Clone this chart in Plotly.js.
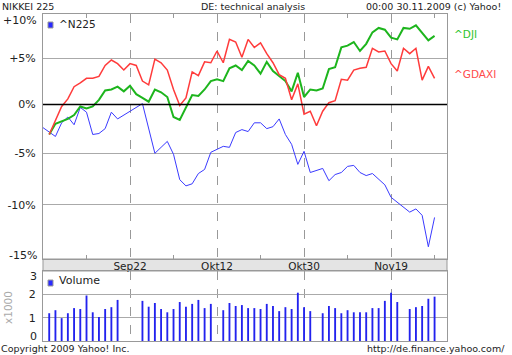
<!DOCTYPE html>
<html>
<head>
<meta charset="utf-8">
<script src="https://cdn.plot.ly/plotly-3.0.1.min.js"></script>
<style>html,body{margin:0;padding:0;background:#fff;}#chart{width:512px;height:355px;}</style>
</head>
<body>
<div id="chart"></div>
<script>
// Trading days (x categories)
const dates = [
 '2009-09-02','2009-09-03','2009-09-04','2009-09-07','2009-09-08','2009-09-09','2009-09-10','2009-09-11',
 '2009-09-14','2009-09-15','2009-09-16','2009-09-17','2009-09-18','2009-09-21','2009-09-22','2009-09-23',
 '2009-09-24','2009-09-25','2009-09-28','2009-09-29','2009-09-30','2009-10-01','2009-10-02','2009-10-05',
 '2009-10-06','2009-10-07','2009-10-08','2009-10-09','2009-10-12','2009-10-13','2009-10-14','2009-10-15',
 '2009-10-16','2009-10-19','2009-10-20','2009-10-21','2009-10-22','2009-10-23','2009-10-26','2009-10-27',
 '2009-10-28','2009-10-29','2009-10-30','2009-11-02','2009-11-03','2009-11-04','2009-11-05','2009-11-06',
 '2009-11-09','2009-11-10','2009-11-11','2009-11-12','2009-11-13','2009-11-16','2009-11-17','2009-11-18',
 '2009-11-19','2009-11-20','2009-11-23','2009-11-24','2009-11-25','2009-11-26','2009-11-27','2009-11-30'
];
// % change series
const n225 = [-2.4,-2.9,-3.3,-1.9,-1.3,-2.1,-0.3,-0.8,-3.1,-3.0,-2.5,-0.8,-1.5,null,null,null,
 0.1,-2.5,-5.0,-4.4,-3.8,-5.1,-7.6,-8.2,-8.0,-7.0,-6.6,-4.9,null,-4.3,-4.4,-2.9,
 -2.6,-2.8,-1.9,-1.9,-2.5,-2.3,-1.5,-3.1,-4.1,-6.1,-4.8,-6.9,null,-6.5,-7.7,-7.1,
 -6.9,-6.3,-6.2,-6.9,-7.2,-7.0,-7.6,-8.1,-9.3,-9.8,null,-10.7,-10.4,-11.0,-13.9,-11.2];
const gdaxi = [null,-3.1,-1.6,-0.2,0.6,1.9,2.3,2.8,2.8,3.0,4.2,4.8,4.4,3.7,4.4,4.2,
 2.5,2.1,4.9,4.5,3.7,1.6,-0.1,0.7,3.5,3.1,4.6,4.5,5.8,4.5,7.1,6.8,
 5.1,7.1,6.2,6.7,5.5,4.5,3.2,2.8,0.5,2.2,-1.0,-0.7,-2.2,-0.7,0.2,0.4,
 2.7,2.6,3.7,3.9,4.0,6.1,5.7,5.8,4.4,3.6,6.1,5.5,6.1,2.6,4.1,2.8];
const dji = [null,-3.1,-2.0,null,-1.5,-1.1,-0.2,-0.4,-0.2,0.5,1.5,1.6,1.9,1.4,2.0,1.1,
 0.7,0.3,1.6,1.3,0.8,-1.3,-1.6,-0.3,1.0,0.9,1.6,2.5,2.7,2.5,3.9,4.2,
 3.7,4.7,4.2,3.3,4.6,3.6,3.0,2.5,1.4,3.4,0.8,1.6,1.5,1.7,3.8,4.0,
 6.2,6.4,6.8,5.8,6.6,7.9,8.4,8.2,7.3,7.1,8.4,8.3,8.7,null,7.0,7.5];
// Volume (x1000)
const volume = [null,1.19,1.32,0.98,1.19,1.41,1.37,1.95,1.23,1.03,1.37,1.45,1.76,null,null,null,
 1.72,1.47,1.63,1.37,1.23,1.37,1.67,1.47,1.59,1.76,1.41,1.59,null,1.32,1.63,1.50,
 1.54,1.41,1.41,1.37,1.59,1.50,1.28,1.45,1.37,2.07,1.45,1.28,null,1.19,1.50,1.41,
 1.19,1.32,1.23,1.23,1.23,1.41,1.41,1.72,2.07,1.67,null,1.37,1.45,1.50,1.81,1.90];
// Axis ticks
const xTickVals = ['2009-09-22','2009-10-12','2009-10-30','2009-11-19'];
const xTickText = ['Sep22','Okt12','Okt30','Nov19'];
const xMinorVals = ['2009-09-11','2009-10-01','2009-10-21','2009-11-10','2009-11-30'];
const yTickPct = [-15,-10,-5,0,5,10];
const yTickText = ['-15%','-10%','-5%','0%','+5%','+10%'];
const volTicks = [0,1,2,3];
const volTickText = ['0','1','2','3'];

const FONT = 'DejaVu Sans, Verdana, sans-serif';
const TXT = '#222';
const toRatio = a => a.map(v => v == null ? null : 1 + v/100);
const yRange = [Math.log10(0.85), Math.log10(1.10)];
const volRange = [0, 3];
const mainDom = [0.25076, 1];
const volDom = [0, 0.21407];
const yPaper = pct => mainDom[0] + (Math.log10(1+pct/100)-yRange[0])/(yRange[1]-yRange[0])*(mainDom[1]-mainDom[0]);
const vPaper = v => volDom[0] + (v-volRange[0])/(volRange[1]-volRange[0])*(volDom[1]-volDom[0]);
const last = a => { for (let i=a.length-1;i>=0;i--) if (a[i]!=null) return a[i]; };

// inner ticks go on the axis; the edge labels are nudged inward like the original
const innerIdx = yTickPct.map((v,i)=>i).filter(i => i>0 && i<yTickPct.length-1);
const vInnerIdx = volTicks.map((v,i)=>i).filter(i => i>0 && i<volTicks.length-1);

const traces = [
 {x:dates, y:toRatio(n225), type:'scatter', mode:'lines', connectgaps:true, line:{color:'#3a3aff', width:1}, xaxis:'x', yaxis:'y', hoverinfo:'skip'},
 {x:dates, y:toRatio(dji), type:'scatter', mode:'lines', connectgaps:true, line:{color:'#1db51d', width:2}, xaxis:'x', yaxis:'y', hoverinfo:'skip'},
 {x:dates, y:toRatio(gdaxi), type:'scatter', mode:'lines', connectgaps:true, line:{color:'#ff3b3b', width:1.5}, xaxis:'x', yaxis:'y', hoverinfo:'skip'},
 {x:dates, y:volume, type:'bar', width:0.3, marker:{color:'#2222ee', line:{width:0}}, xaxis:'x2', yaxis:'y2', hoverinfo:'skip'}
];

const edgeLabel = (text, yp, shift) => ({text, xref:'paper', yref:'paper', x:0, xshift:-5, y:yp, yshift:shift,
  xanchor:'right', yanchor:'middle', showarrow:false, borderpad:0, font:{size:11, color:TXT}});

const layout = {
 width:512, height:355,
 margin:{l:43, r:65, t:14, b:14, pad:0},
 paper_bgcolor:'#ffffff', plot_bgcolor:'#ffffff',
 showlegend:false,
 font:{family:FONT, size:10.5, color:TXT},
 xaxis:{type:'category', range:[0,65], anchor:'y', showline:true, mirror:'ticks', linecolor:'#999', linewidth:1,
   showgrid:true, gridcolor:'#999', griddash:'dash', gridwidth:1, zeroline:false,
   tickmode:'array', tickvals:xTickVals, ticktext:xTickText, ticks:'', ticklabelstandoff:-3, tickfont:{size:10.5, color:TXT},
   minor:{tickmode:'array', tickvals:xMinorVals, ticks:'inside', ticklen:4, tickcolor:'#999', tickwidth:1, showgrid:false}},
 xaxis2:{type:'category', matches:'x', anchor:'y2', showline:true, mirror:true, linecolor:'#999', linewidth:1,
   showgrid:true, gridcolor:'#999', griddash:'dash', gridwidth:1, zeroline:false,
   tickmode:'array', tickvals:xTickVals, showticklabels:false, ticks:''},
 yaxis:{domain:mainDom, type:'log', range:yRange, anchor:'x', showline:true, mirror:true, linecolor:'#999', linewidth:1,
   showgrid:true, gridcolor:'#aaa', gridwidth:1, zeroline:false,
   tickmode:'array', tickvals:innerIdx.map(i=>1+yTickPct[i]/100), ticktext:innerIdx.map(i=>yTickText[i]),
   ticks:'outside', ticklen:4, tickcolor:'rgba(0,0,0,0)', tickfont:{size:11, color:TXT}},
 yaxis2:{domain:volDom, range:volRange, anchor:'x2', showline:true, mirror:true, linecolor:'#999', linewidth:1,
   showgrid:true, gridcolor:'#aaa', gridwidth:1, zeroline:false,
   tickmode:'array', tickvals:vInnerIdx.map(i=>volTicks[i]), ticktext:vInnerIdx.map(i=>volTickText[i]),
   ticks:'outside', ticklen:4, tickcolor:'rgba(0,0,0,0)', tickfont:{size:11, color:TXT}},
 shapes:[
   {type:'rect', xref:'paper', yref:'paper', x0:0, x1:1, y0:volDom[1], y1:mainDom[0], fillcolor:'#e4e4e4', line:{color:'#999', width:1}, layer:'below'},
   {type:'line', xref:'paper', yref:'paper', x0:0, x1:1, y0:yPaper(0), y1:yPaper(0), line:{color:'#000', width:1.5}},
   {type:'rect', xref:'paper', yref:'paper', x0:0.0124, x1:0.0248, y0:0.9572, y1:0.9755, fillcolor:'#2a2aff', line:{color:'#999', width:1}},
   {type:'rect', xref:'paper', yref:'paper', x0:0.0124, x1:0.0248, y0:0.1682, y1:0.1865, fillcolor:'#2a2aff', line:{color:'#999', width:1}}
 ],
 annotations:[
   edgeLabel(yTickText[yTickText.length-1], yPaper(yTickPct[yTickPct.length-1]), -6),
   edgeLabel(yTickText[0], yPaper(yTickPct[0]), 4),
   edgeLabel(volTickText[volTickText.length-1], vPaper(volTicks[volTicks.length-1]), -6),
   edgeLabel(volTickText[0], vPaper(volTicks[0]), 5),
   {text:'^N225', xref:'paper', yref:'paper', x:0.0354, y:0.9694, xanchor:'left', yanchor:'middle', showarrow:false, font:{size:10.5, color:TXT}},
   {text:'Volume', xref:'paper', yref:'paper', x:0.0354, y:0.1835, xanchor:'left', yanchor:'middle', showarrow:false, font:{size:11, color:TXT}},
   {text:'^DJI', xref:'paper', yref:'paper', x:1.0116, y:yPaper(last(dji)), yshift:2, xanchor:'left', yanchor:'middle', showarrow:false, font:{size:10.5, color:'#2cc42c'}},
   {text:'^GDAXI', xref:'paper', yref:'paper', x:1.0116, y:yPaper(last(gdaxi)), yshift:4, xanchor:'left', yanchor:'middle', showarrow:false, font:{size:10.5, color:'#ff4a4a'}},
   {text:'x1000', xref:'paper', yref:'paper', x:-0.0879, y:0.1024, textangle:-90, xanchor:'center', yanchor:'middle', showarrow:false, font:{size:10.5, color:'#aaa'}},
   {text:'NIKKEI 225', xref:'paper', yref:'paper', x:-0.1064, y:1.0214, yshift:1, xanchor:'left', yanchor:'middle', showarrow:false, font:{size:9.5, color:TXT}},
   {text:'DE: technical analysis', xref:'paper', yref:'paper', x:0.5198, y:1.0214, yshift:1, xanchor:'center', yanchor:'middle', showarrow:false, font:{size:9.5, color:TXT}},
   {text:'00:00 30.11.2009 (c) Yahoo!', xref:'paper', yref:'paper', x:1.1386, y:1.0214, yshift:1, xanchor:'right', yanchor:'middle', showarrow:false, font:{size:9.5, color:TXT}},
   {text:'Copyright 2009 Yahoo! Inc.', xref:'paper', yref:'paper', x:-0.1064, y:-14/327, xanchor:'left', yanchor:'bottom', borderpad:0, showarrow:false, font:{size:9.5, color:TXT}},
   {text:'http://de.finance.yahoo.com/', xref:'paper', yref:'paper', x:1.146, y:-14/327, xanchor:'right', yanchor:'bottom', borderpad:0, showarrow:false, font:{size:9.5, color:TXT}}
 ]
};

Plotly.newPlot('chart', traces, layout, {staticPlot:true, displayModeBar:false});
</script>
</body>
</html>
